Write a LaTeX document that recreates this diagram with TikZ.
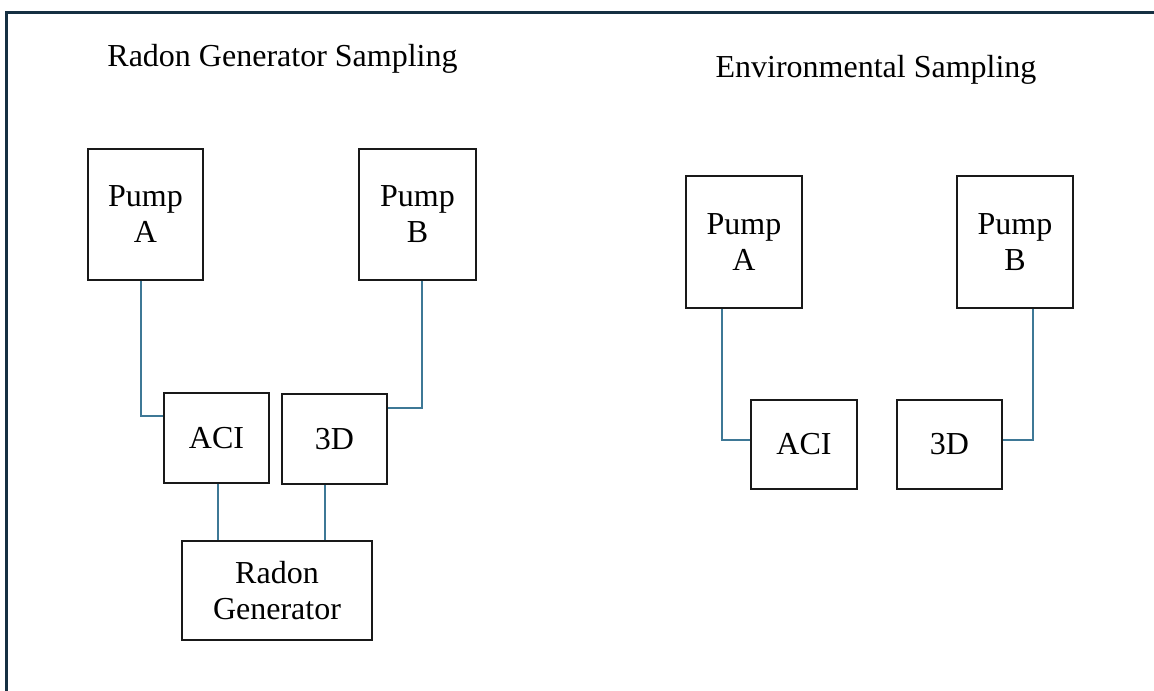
\documentclass[tikz,border=0pt]{standalone}
\usepackage{fontspec}
\setmainfont{Liberation Serif}
\begin{document}
\begin{tikzpicture}[x=1bp,y=-1bp,
  box/.style={draw=black!90,line width=1.5bp,inner sep=0pt,align=center,
    font=\fontsize{32bp}{36bp}\selectfont},
  conn/.style={draw={rgb,255:red,62;green,120;blue,150},line width=1.5bp},
  ttl/.style={anchor=base,inner sep=0pt,font=\fontsize{32bp}{36bp}\selectfont}]
\useasboundingbox (0,0) rectangle (1154,691);
% frame
\coordinate (fb) at (6.5,691);
\coordinate (ftl) at (6.5,12.5);
\coordinate (fr) at (1154,12.5);
\draw[line width=2.5bp,color={rgb,255:red,22;green,48;blue,66}] (fb) -- (ftl) -- (fr);
% titles
\node[ttl] (t1) at (282.5,67) {Radon Generator Sampling};
\node[ttl] (t2) at (876,78) {Environmental Sampling};
% left diagram
\node[box,minimum width=115bp,minimum height=131bp] (lpa) at (145.5,214.5) {Pump\\A};
\node[box,minimum width=117bp,minimum height=131bp] (lpb) at (417.5,214.5) {Pump\\B};
\node[box,minimum width=105bp,minimum height=90bp] (laci) at (216.5,438) {ACI};
\node[box,minimum width=105bp,minimum height=90bp] (l3d) at (334.5,439) {3D};
\node[box,minimum width=190bp,minimum height=99bp] (rg) at (277,590.5) {Radon\\Generator};
\coordinate (ja) at (141,416);
\coordinate (jb) at (422,408);
\coordinate (jc) at (218,0);
\coordinate (jd) at (325,0);
\draw[conn] (lpa.south -| ja) |- (laci.west |- ja);
\draw[conn] (lpb.south -| jb) |- (l3d.east |- jb);
\draw[conn] (laci.south -| jc) -- (rg.north -| jc);
\draw[conn] (l3d.south -| jd) -- (rg.north -| jd);
% right diagram
\node[box,minimum width=116bp,minimum height=132bp] (rpa) at (744,242) {Pump\\A};
\node[box,minimum width=116bp,minimum height=132bp] (rpb) at (1015,242) {Pump\\B};
\node[box,minimum width=106bp,minimum height=89bp] (raci) at (804,444.5) {ACI};
\node[box,minimum width=105bp,minimum height=89bp] (r3d) at (949.5,444.5) {3D};
\coordinate (je) at (722,440);
\coordinate (jf) at (1033,440);
\draw[conn] (rpa.south -| je) |- (raci.west |- je);
\draw[conn] (rpb.south -| jf) |- (r3d.east |- jf);
\end{tikzpicture}
\end{document}
